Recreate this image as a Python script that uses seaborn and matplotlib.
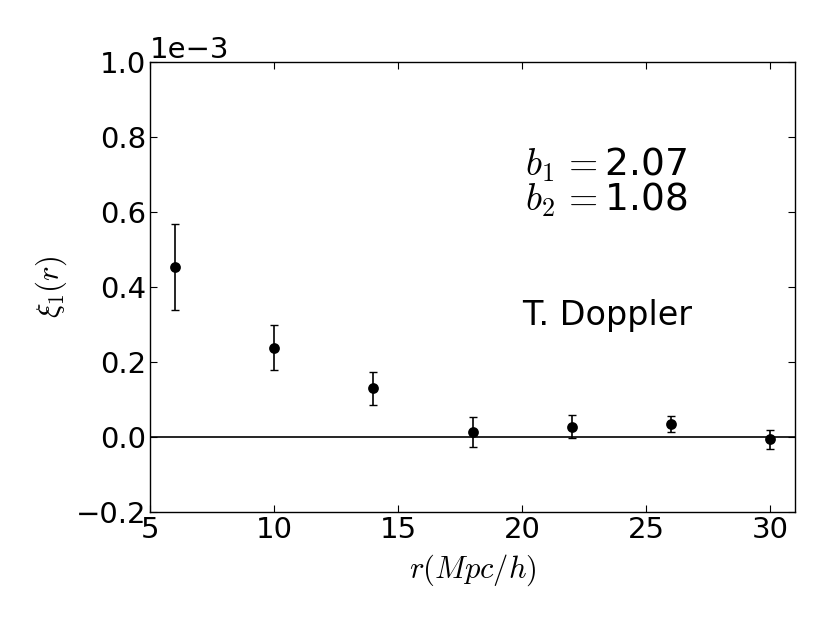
import numpy as np
import matplotlib
matplotlib.use("Agg")
import matplotlib.pyplot as plt
import seaborn as sns

sns.set_style("white")
plt.rcParams['font.family'] = ['DejaVu Sans']
plt.rcParams['mathtext.fontset'] = 'cm'
plt.rcParams['text.color'] = 'k'
plt.rcParams['axes.labelcolor'] = 'k'
plt.rcParams['xtick.color'] = 'k'
plt.rcParams['ytick.color'] = 'k'

# separation bins and correlation values
r_bins = [6, 10, 14, 18, 22, 26, 30]
xi1 = [0.453e-3, 0.239e-3, 0.131e-3, 0.015e-3, 0.028e-3, 0.036e-3, -0.006e-3]
xi1_err = [0.115e-3, 0.059e-3, 0.044e-3, 0.040e-3, 0.031e-3, 0.021e-3, 0.025e-3]

b1, b2 = 2.07, 1.08
label = "T. Doppler"

fig = plt.figure(figsize=(8.3, 6.23), dpi=100)
ax = fig.add_axes([0.181, 0.178, 0.777, 0.722])

ax.axhline(0, color='k', lw=1.2, zorder=1)
ax.errorbar(r_bins, xi1, yerr=xi1_err, fmt='none', ecolor='k', elinewidth=1.2,
            capsize=3.2, capthick=1.0, zorder=2)
sns.scatterplot(x=r_bins, y=xi1, color='k', s=60, edgecolor='k', linewidth=0, ax=ax, zorder=3)

ax.set_xlim(5, 31)
ax.set_ylim(-0.2e-3, 1.0e-3)
ax.set_xticks([5, 10, 15, 20, 25, 30])
ax.set_yticks(np.arange(-0.2e-3, 1.01e-3, 0.2e-3))
ax.ticklabel_format(axis='y', style='sci', scilimits=(0, 0))
ax.yaxis.get_offset_text().set_fontsize(21)

ax.tick_params(direction='in', length=5, width=0.8, top=True, right=True,
               bottom=True, left=True, labelsize=21, pad=3)
for s in ax.spines.values():
    s.set_color('k')
    s.set_linewidth(1.0)

ax.set_xlabel(r'$r(Mpc/h)$', fontsize=22, labelpad=6)
ax.set_ylabel(r'$\xi_1(r)$', fontsize=22, labelpad=5)

ax.text(20.1, 0.698e-3, r'$b_1\,=$' + f'{b1:.2f}', fontsize=27)
ax.text(20.1, 0.605e-3, r'$b_2\,=$' + f'{b2:.2f}', fontsize=27)
ax.text(20.0, 0.298e-3, label, fontsize=24)

fig.savefig("out.png", dpi=100)
